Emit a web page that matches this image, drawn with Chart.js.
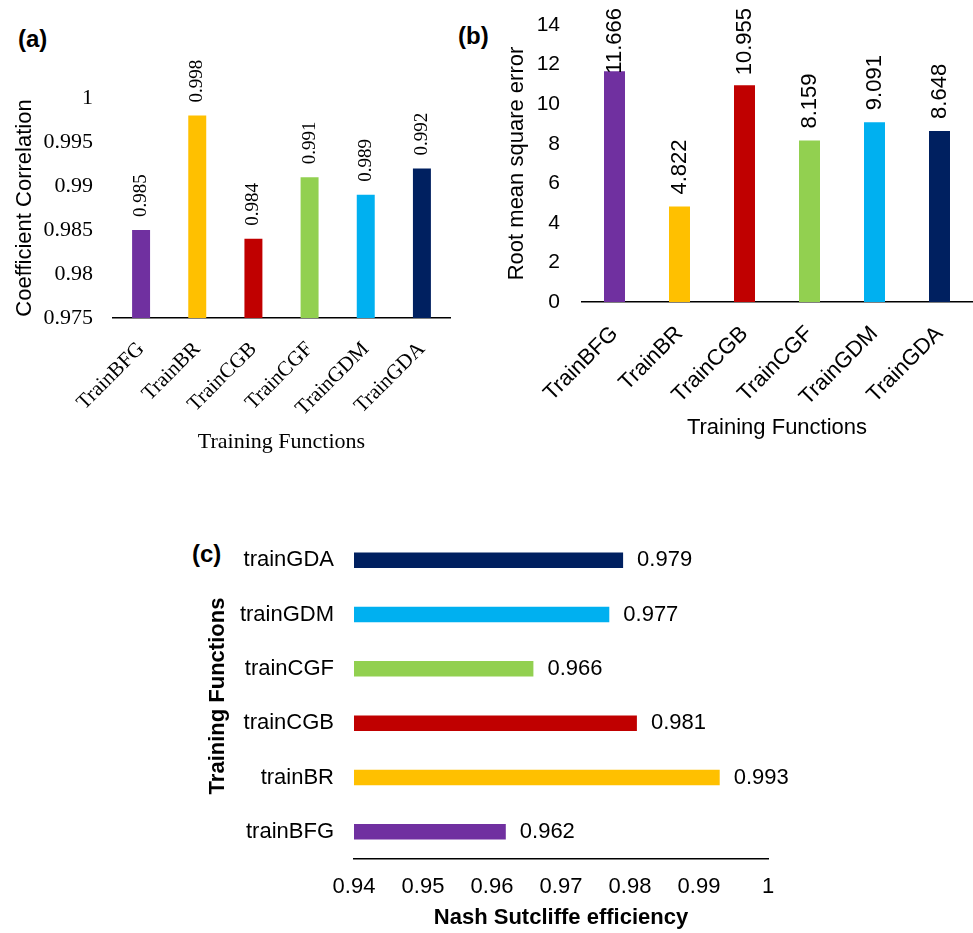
<!DOCTYPE html>
<html>
<head>
<meta charset="utf-8">
<script src="https://cdn.jsdelivr.net/npm/chart.js@4"></script>
<style>
  html, body { margin: 0; padding: 0; background: #fff; }
  body { width: 973px; height: 933px; position: relative; overflow: hidden; }
  canvas { position: absolute; }
  .tag { position: absolute; font: bold 24px "Liberation Sans", Arial, sans-serif; line-height: 24px; color: #000; }
</style>
</head>
<body>
<div class="tag" style="left:18px;top:27px">(a)</div>
<div class="tag" style="left:458px;top:24px">(b)</div>
<div class="tag" style="left:192px;top:542px">(c)</div>

<canvas id="ccChart" width="480" height="470" style="left:0;top:0;width:480px;height:470px"></canvas>
<canvas id="rmseChart" width="493" height="460" style="left:480px;top:0;width:493px;height:460px"></canvas>
<canvas id="nseChart" width="620" height="413" style="left:180px;top:520px;width:620px;height:413px"></canvas>

<script>
// Training functions compared in all three panels
const trainingFns = ['TrainBFG', 'TrainBR', 'TrainCGB', 'TrainCGF', 'TrainGDM', 'TrainGDA'];
const trainingFnsLower = ['trainBFG', 'trainBR', 'trainCGB', 'trainCGF', 'trainGDM', 'trainGDA'];
const barColors = ['#7030A0', '#FFC000', '#C00000', '#92D050', '#00B0F0', '#002060'];

// Performance metrics per training function
const correlation = [0.985, 0.998, 0.984, 0.991, 0.989, 0.992];
const rmse = [11.666, 4.822, 10.955, 8.159, 9.091, 8.648];
const nse = [0.962, 0.993, 0.981, 0.966, 0.977, 0.979];

// Axis tick values
const ccTicks = [0.975, 0.98, 0.985, 0.99, 0.995, 1];
const rmseTicks = [0, 2, 4, 6, 8, 10, 12, 14];
const nseTicks = [0.94, 0.95, 0.96, 0.97, 0.98, 0.99, 1];

Chart.defaults.color = '#000';

const SERIF = '"Liberation Serif", "Times New Roman", serif';
const SANS = '"Liberation Sans", Arial, sans-serif';

// Writes each bar's value next to its end (rotated for vertical bars)
const valueLabels = {
  id: 'valueLabels',
  afterDatasetsDraw(chart, args, opts) {
    const ctx = chart.ctx;
    const meta = chart.getDatasetMeta(0);
    const values = chart.data.datasets[0].data;
    ctx.save();
    ctx.font = opts.font;
    ctx.fillStyle = '#000';
    meta.data.forEach((bar, i) => {
      const text = values[i].toFixed(3);
      if (opts.horizontal) {
        ctx.textAlign = 'left';
        ctx.textBaseline = 'middle';
        ctx.fillText(text, bar.x + opts.gap, bar.y);
      } else {
        const w = ctx.measureText(text).width;
        let start = bar.y - opts.gap;
        if (typeof opts.minTop === 'number') start = Math.max(start, opts.minTop + w);
        ctx.save();
        ctx.translate(bar.x, start);
        ctx.rotate(-Math.PI / 2);
        ctx.textAlign = 'left';
        ctx.textBaseline = 'middle';
        ctx.fillText(text, 0, 0);
        ctx.restore();
      }
    });
    ctx.restore();
  }
};

const fixedTicks = (list) => (scale) => { scale.ticks = list.map(v => ({ value: v })); };
const axisLine = { display: true, color: '#000', width: 1.5 };

// Fixes a scale's box size so the plot areas line up across panels
const fixSize = (prop, size) => (s) => {
  s[prop] = size;
  s.paddingTop = 0; s.paddingBottom = 0; s.paddingLeft = 0; s.paddingRight = 0;
};

// (a) Coefficient correlation
new Chart(document.getElementById('ccChart'), {
  type: 'bar',
  data: {
    labels: trainingFns,
    datasets: [{ data: correlation, backgroundColor: barColors, categoryPercentage: 1, barPercentage: 0.32 }]
  },
  options: {
    responsive: false, animation: false, devicePixelRatio: 1,
    layout: { padding: { left: 12, top: 98, right: 30, bottom: 15 } },
    plugins: {
      legend: { display: false }, tooltip: { enabled: false },
      valueLabels: { font: '19px ' + SERIF, gap: 13 }
    },
    scales: {
      x: {
        grid: { display: false, drawTicks: false }, border: axisLine,
        ticks: { font: { family: SERIF, size: 21 }, minRotation: 45, maxRotation: 45, padding: 19, autoSkip: false },
        title: { display: true, text: 'Training Functions', font: { family: SERIF, size: 22 }, padding: 0 },
        afterFit: fixSize('height', 137)
      },
      y: {
        min: 0.975, max: 1,
        grid: { display: false, drawTicks: false }, border: { display: false },
        afterBuildTicks: fixedTicks(ccTicks),
        ticks: { font: { family: SERIF, size: 22 }, padding: 20, callback: v => String(+v.toFixed(3)) },
        title: { display: true, text: 'Coefficient Correlation', font: { family: SANS, size: 22 }, padding: 0 },
        afterFit: fixSize('width', 101)
      }
    }
  },
  plugins: [valueLabels]
});

// (b) Root mean square error
new Chart(document.getElementById('rmseChart'), {
  type: 'bar',
  data: {
    labels: trainingFns,
    datasets: [{ data: rmse, backgroundColor: barColors, categoryPercentage: 1, barPercentage: 0.323 }]
  },
  options: {
    responsive: false, animation: false, devicePixelRatio: 1,
    layout: { padding: { left: 24, top: 25, right: 1, bottom: 19 } },
    plugins: {
      legend: { display: false }, tooltip: { enabled: false },
      valueLabels: { font: '22px ' + SANS, gap: 12, minTop: 8 }
    },
    scales: {
      x: {
        grid: { display: false, drawTicks: false }, border: axisLine,
        ticks: { font: { family: SANS, size: 22 }, minRotation: 45, maxRotation: 45, padding: 19, autoSkip: false },
        title: { display: true, text: 'Training Functions', font: { family: SANS, size: 22 }, padding: 0 },
        afterFit: fixSize('height', 139)
      },
      y: {
        min: 0, max: 14,
        grid: { display: false, drawTicks: false }, border: { display: false },
        afterBuildTicks: fixedTicks(rmseTicks),
        ticks: { font: { family: SANS, size: 21 }, padding: 22 },
        title: { display: true, text: 'Root mean square error', font: { family: SANS, size: 22 }, padding: 0 },
        afterFit: fixSize('width', 78)
      }
    }
  },
  plugins: [valueLabels]
});

// (c) Nash Sutcliffe efficiency
new Chart(document.getElementById('nseChart'), {
  type: 'bar',
  data: {
    labels: trainingFnsLower,
    datasets: [{ data: nse, backgroundColor: barColors, categoryPercentage: 1, barPercentage: 0.285 }]
  },
  options: {
    indexAxis: 'y',
    responsive: false, animation: false, devicePixelRatio: 1,
    layout: { padding: { left: 25, top: 13, right: 32, bottom: 2 } },
    plugins: {
      legend: { display: false }, tooltip: { enabled: false },
      valueLabels: { font: '22px ' + SANS, gap: 14, horizontal: true }
    },
    scales: {
      x: {
        min: 0.94, max: 1,
        grid: { display: false, drawTicks: false }, border: axisLine,
        afterBuildTicks: fixedTicks(nseTicks),
        ticks: { font: { family: SANS, size: 22 }, padding: 15, callback: v => String(+v.toFixed(2)) },
        title: { display: true, text: 'Nash Sutcliffe efficiency', font: { family: SANS, size: 22, weight: 'bold' }, padding: 0 },
        afterFit: fixSize('height', 72)
      },
      y: {
        reverse: true,
        grid: { display: false, drawTicks: false }, border: { display: false },
        ticks: { font: { family: SANS, size: 22 }, padding: 20, autoSkip: false },
        title: { display: true, text: 'Training Functions', font: { family: SANS, size: 22, weight: 'bold' }, padding: 0 },
        afterFit: fixSize('width', 149)
      }
    }
  },
  plugins: [valueLabels]
});
</script>
</body>
</html>
